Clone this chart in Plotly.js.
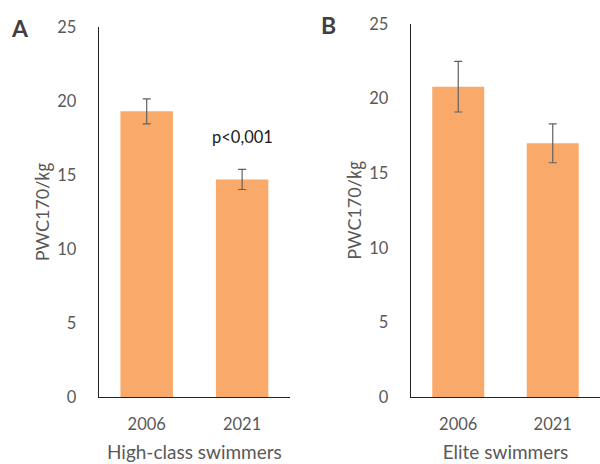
<!DOCTYPE html>
<html><head><meta charset="utf-8">
<script src="https://cdn.plot.ly/plotly-3.0.1.min.js"></script>
<style>body{margin:0;background:#fff}#c{width:600px;height:464px}</style>
</head><body><div id="c"></div>
<script>
const years = ['2006', '2021'];
const highClassMean = [19.3, 14.7];
const highClassErr = [0.85, 0.68];
const eliteMean = [20.8, 17.0];
const eliteErr = [1.7, 1.3];
const yTicks = [0, 5, 10, 15, 20, 25];
const pText = 'p&lt;0,001';
const yTitle = 'PWC170/<span style="font-family:\'Noto Sans CJK JP\'">㎏</span>';

const barColor = '#F9AA6B';
const font = 'Lato, "Open Sans", "Liberation Sans", sans-serif';
const gray = '#595959';

const errStyle = {type:'data', visible:true, color:'#606060', thickness:1.2, width:4};
const traces = [
  {type:'bar', x:years, y:highClassMean, xaxis:'x', yaxis:'y', marker:{color:barColor},
   error_y:Object.assign({array:highClassErr}, errStyle), hoverinfo:'skip'},
  {type:'bar', x:years, y:eliteMean, xaxis:'x2', yaxis:'y2', marker:{color:barColor},
   error_y:Object.assign({array:eliteErr}, errStyle), hoverinfo:'skip'}
];

const yax = (dom, anchor) => ({domain:dom, anchor:anchor, range:[0,25], tickvals:yTicks,
  showgrid:false, zeroline:false, showline:true, linecolor:'#222', linewidth:1.3,
  ticks:'', ticklabelstandoff:18, tickfont:{family:font, size:16.5, color:gray},
  title:{text:yTitle, font:{family:font, size:18, color:gray}, standoff:3}});
const xax = (dom, anchor, title) => ({type:'category', domain:dom, anchor:anchor, range:[-0.5,1.5],
  showgrid:false, zeroline:false, showline:true, linecolor:'#222', linewidth:1.3, ticks:'',
  tickfont:{family:font, size:16.5, color:gray}, ticklabelstandoff:12,
  title:{text:title, font:{family:font, size:19, color:gray}, standoff:12}});

const layout = {
  width:600, height:464, margin:{l:0,r:0,t:0,b:0}, showlegend:false,
  paper_bgcolor:'#fff', plot_bgcolor:'#fff', bargap:0.45,
  xaxis: xax([0.165,0.483], 'y', 'High-class swimmers'),
  yaxis: yax([0.1444,0.9418], 'x'),
  xaxis2: xax([0.685,1.0], 'y2', 'Elite swimmers'),
  yaxis2: yax([0.1444,0.9483], 'x2'),
  annotations:[
    {text:'<b>A</b>', xref:'paper', yref:'paper', x:0.034, y:0.94, xanchor:'center', yanchor:'middle',
     showarrow:false, font:{family:font, size:23, color:'#404040'}},
    {text:'<b>B</b>', xref:'paper', yref:'paper', x:0.548, y:0.946, xanchor:'center', yanchor:'middle',
     showarrow:false, font:{family:font, size:23, color:'#404040'}},
    {text:pText, xref:'x', yref:'y', x:1, y:17.55, showarrow:false,
     font:{family:font, size:16.5, color:'#1a1a1a'}}
  ]
};
Plotly.newPlot('c', traces, layout, {staticPlot:true});
</script></body></html>
